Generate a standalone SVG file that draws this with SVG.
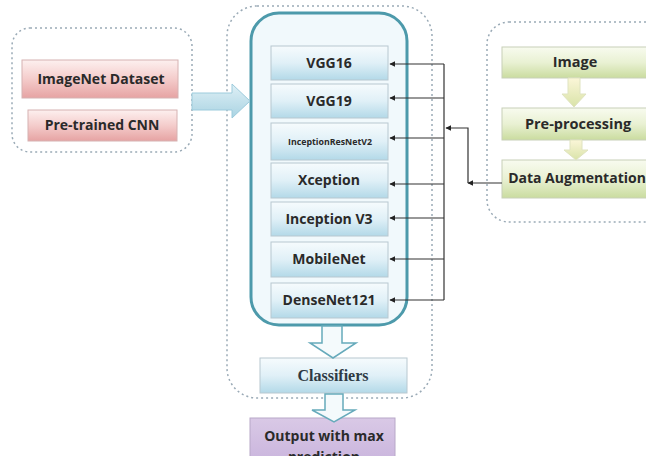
<svg xmlns="http://www.w3.org/2000/svg" width="646" height="456" viewBox="0 0 646 456">
<defs>
<linearGradient id="gPink" x1="0" y1="0" x2="0" y2="1"><stop offset="0" stop-color="#fdf0ef"/><stop offset="0.5" stop-color="#f4cccb"/><stop offset="1" stop-color="#e6a3a3"/></linearGradient>
<linearGradient id="gBlue" x1="0" y1="0" x2="0" y2="1"><stop offset="0" stop-color="#f6fbfd"/><stop offset="0.5" stop-color="#e0f0f7"/><stop offset="1" stop-color="#b3d9e8"/></linearGradient>
<linearGradient id="gGreen" x1="0" y1="0" x2="0" y2="1"><stop offset="0" stop-color="#f8fbef"/><stop offset="0.5" stop-color="#e9f1d3"/><stop offset="1" stop-color="#cadc9f"/></linearGradient>
<linearGradient id="gPurple" x1="0" y1="0" x2="0" y2="1"><stop offset="0" stop-color="#d9c9e6"/><stop offset="1" stop-color="#c8b2dc"/></linearGradient>
<linearGradient id="gArrow" x1="0" y1="0" x2="0" y2="1"><stop offset="0" stop-color="#dff0f6"/><stop offset="1" stop-color="#a9d3e2"/></linearGradient>
<linearGradient id="gArrowY" x1="0" y1="0" x2="0" y2="1"><stop offset="0" stop-color="#fbf6d8"/><stop offset="1" stop-color="#d9e3a8"/></linearGradient>
<marker id="ah" viewBox="0 0 10 10" refX="9" refY="5" markerWidth="5" markerHeight="5" orient="auto"><path d="M0,0 L10,5 L0,10 z" fill="#222"/></marker>
</defs>
<style>
.dash{fill:#ffffff;stroke:#9aaab6;stroke-width:1.5;stroke-dasharray:2 3}
.pink{fill:url(#gPink);stroke:#d6b2b2;stroke-width:1}
.blue{fill:url(#gBlue);stroke:#b8c8d0;stroke-width:1}
.green{fill:url(#gGreen);stroke:#c8d0b8;stroke-width:1}
.lbl{font-family:"Open Sans","Liberation Sans",sans-serif;font-weight:bold;font-size:14px;fill:#2a2a2a;text-anchor:middle}
.ser{font-family:"Liberation Serif",serif;font-weight:bold;font-size:16px;fill:#2e3a44;text-anchor:middle}
.conn{fill:none;stroke:#333;stroke-width:1.2}
</style>
<rect x="0" y="0" width="646" height="456" fill="#ffffff"/>

<g id="left-group">
<rect class="dash" x="12" y="28" width="180" height="124" rx="18"/>
</g>
<g id="center-group">
<rect class="dash" x="227" y="6" width="205" height="392" rx="30"/>
</g>
<g id="right-group">
<rect class="dash" x="487" y="22" width="200" height="200" rx="22"/>
</g>

<g id="cnn-container">
<rect x="251" y="13" width="156" height="312" rx="28" fill="#f1f9fc" stroke="#4d9aab" stroke-width="3"/>
</g>

<g id="imagenet"><rect class="pink" x="22" y="60" width="156" height="38"/><text class="lbl" x="101" y="84">ImageNet Dataset</text></g>
<g id="pretrained"><rect class="pink" x="28" y="110" width="149" height="31"/><text class="lbl" x="102" y="130">Pre-trained CNN</text></g>

<g id="vgg16"><rect class="blue" x="271" y="46" width="117" height="34"/><text class="lbl" x="329" y="68">VGG16</text></g>
<g id="vgg19"><rect class="blue" x="271" y="84" width="117" height="34"/><text class="lbl" x="329" y="106">VGG19</text></g>
<g id="inceptionresnetv2"><rect class="blue" x="271" y="123" width="117" height="37"/><text class="lbl" x="330" y="145" style="font-size:8.8px">InceptionResNetV2</text></g>
<g id="xception"><rect class="blue" x="271" y="163" width="117" height="35"/><text class="lbl" x="329" y="185">Xception</text></g>
<g id="inceptionv3"><rect class="blue" x="271" y="202" width="117" height="34"/><text class="lbl" x="329" y="224">Inception V3</text></g>
<g id="mobilenet"><rect class="blue" x="271" y="242" width="117" height="35"/><text class="lbl" x="329" y="264">MobileNet</text></g>
<g id="densenet121"><rect class="blue" x="271" y="283" width="117" height="35"/><text class="lbl" x="329" y="305">DenseNet121</text></g>

<g id="classifiers"><rect class="blue" x="260" y="358" width="147" height="35"/><text class="ser" x="333" y="381">Classifiers</text></g>
<g id="output"><rect x="250" y="418" width="145" height="50" fill="url(#gPurple)" stroke="#b8a8c8" stroke-width="1"/><text class="lbl" x="324" y="441">Output with max</text><text class="lbl" x="324" y="462">prediction</text></g>

<g id="image"><rect class="green" x="502" y="47" width="150" height="31"/><text class="lbl" x="575" y="67" style="font-size:14.5px">Image</text></g>
<g id="preprocessing"><rect class="green" x="502" y="108" width="150" height="32"/><text class="lbl" x="578" y="129" style="font-size:14.5px">Pre-processing</text></g>
<g id="dataaug"><rect class="green" x="502" y="160" width="150" height="38"/><text class="lbl" x="577" y="183">Data Augmentation</text></g>

<g id="connectors">
<path d="M192,93 L232,93 L232,84 L250,101 L232,118 L232,110 L192,110 Z" fill="url(#gArrow)" stroke="#9ccbdc" stroke-width="1"/>
<path d="M322,326 L342,326 L342,343 L356,343 L333,358 L310,343 L322,343 Z" fill="#f4fafc" stroke="#66aabb" stroke-width="1.5"/>
<path d="M325,394 L343,394 L343,410 L355,410 L334,422 L312,410 L325,410 Z" fill="#f4fafc" stroke="#66aabb" stroke-width="1.5"/>
<path d="M568,78 L580,78 L580,94 L586,94 L574,107 L562,94 L568,94 Z" fill="url(#gArrowY)" stroke="#dfe3c0" stroke-width="1"/>
<path d="M570,140 L582,140 L582,150 L588,150 L576,160 L564,150 L570,150 Z" fill="url(#gArrowY)" stroke="#dfe3c0" stroke-width="1"/>
<path class="conn" d="M444,64 L444,300"/>
<path class="conn" d="M444,64 L390,64" marker-end="url(#ah)"/>
<path class="conn" d="M444,98 L390,98" marker-end="url(#ah)"/>
<path class="conn" d="M444,138 L390,138" marker-end="url(#ah)"/>
<path class="conn" d="M444,184 L390,184" marker-end="url(#ah)"/>
<path class="conn" d="M444,218 L390,218" marker-end="url(#ah)"/>
<path class="conn" d="M444,259 L390,259" marker-end="url(#ah)"/>
<path class="conn" d="M444,300 L390,300" marker-end="url(#ah)"/>
<path class="conn" d="M502,183 L468,183" marker-end="url(#ah)"/>
<path class="conn" d="M468,183 L468,128 L446,128" marker-end="url(#ah)"/>
</g>
</svg>
